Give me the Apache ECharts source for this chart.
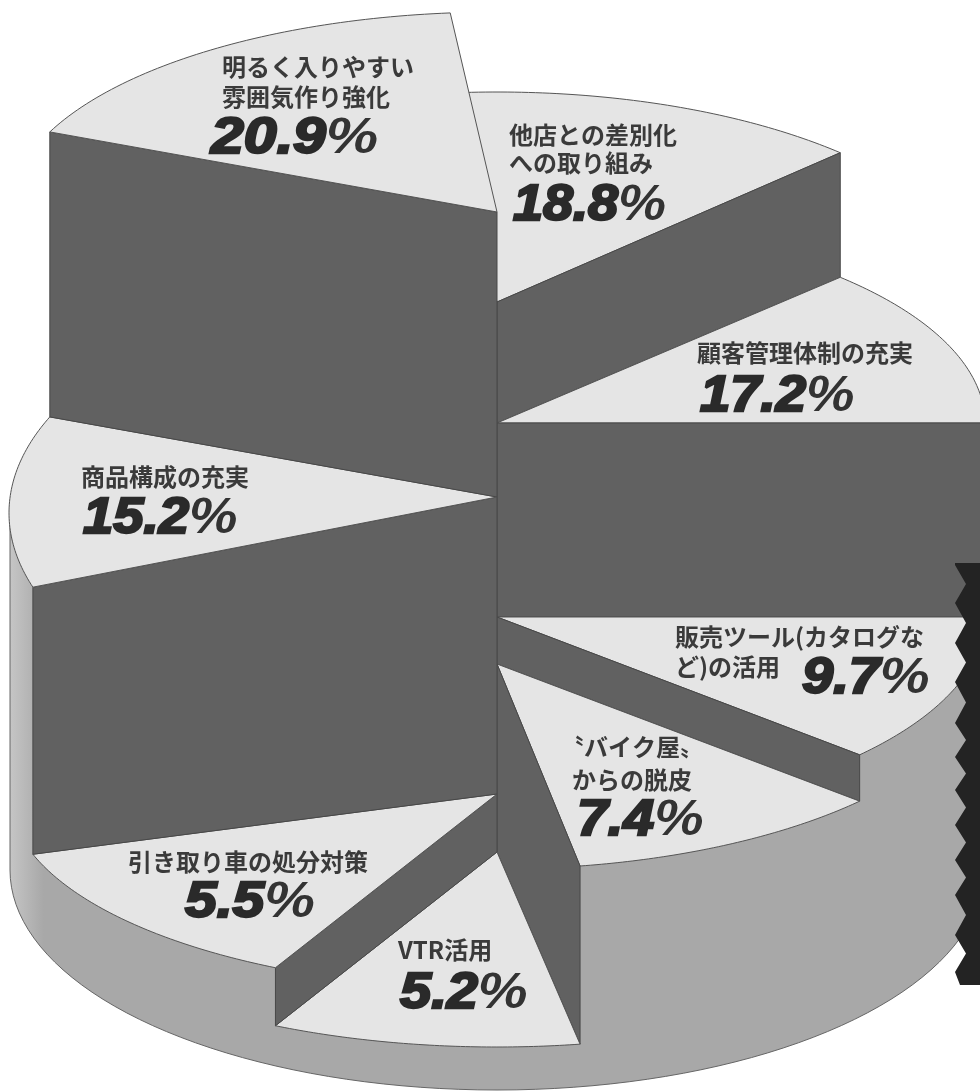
<!DOCTYPE html>
<html><head><meta charset="utf-8">
<style>html,body{margin:0;padding:0;background:#fff}#c{width:980px;height:1091px}</style>
<script src="https://cdn.jsdelivr.net/npm/echarts@6/dist/echarts.min.js"></script>
</head><body><div id="c"></div>
<script>
// Slices in clockwise drawing order, starting at the one right of the top.
const categories = [
  ['他店との差別化','への取り組み'],
  ['顧客管理体制の充実'],
  ['販売ツール(カタログな','ど)の活用'],
  ['〝バイク屋〟','からの脱皮'],
  ['VTR活用'],
  ['引き取り車の処分対策'],
  ['商品構成の充実'],
  ['明るく入りやすい','雰囲気作り強化']
];
const shares = [18.8, 17.2, 9.7, 7.4, 5.2, 5.5, 15.2, 20.9];
// The illustration is not drawn to scale: sweeps and step levels are read from the picture.
const sweepDeg = [50.2, 45.3, 42, 38.2, 36.8, 45, 41.6, 60.9];
const stepLevel = [302, 423, 617, 664, 852, 794, 497, 212];

// ---- drawing ----
const CX = 497, RX = 488, START = -5.5;
const faceRy = [210, 205, 206, 205, 195, 195, 240, 200];
const faceShift = [0, 0, 0, 0, 0, 0, 16, 0];
const FACE = '#e5e5e5', WALL = '#616161', LINE = '#555';
const LABELS = [
  {x:[509,509],y:[135,163],px:513,py:206,sc:1.08},
  {x:[697],y:[353],px:700,py:397,sc:1.09},
  {x:[675,675],y:[637,667],px:802,py:679,sc:1.12},
  {x:[560,572],y:[747,780],px:577,py:821,sc:1.11},
  {x:[398],y:[950],px:400,py:994,sc:1.12},
  {x:[128],y:[862],px:185,py:903,sc:1.14},
  {x:[81],y:[477],px:83,py:519,sc:1.09},
  {x:[222,222],y:[67,97],px:211,py:139,sc:1.18}
];
const edges = []; let acc = START;
sweepDeg.forEach(s => { edges.push([acc, acc + s]); acc += s; });
const n = shares.length;
const rim = (i, deg) => {
  const t = deg * Math.PI / 180;
  return [CX + RX * Math.sin(t), stepLevel[i] + faceShift[i] - faceRy[i] * Math.cos(t)];
};
const at = (api, p) => api.coord(p);

function renderSlice(params, api) {
  const i = params.dataIndex, ch = [];
  const [a, b] = edges[i];
  const pts = [[CX, stepLevel[i]]];
  for (let k = 0; k <= 60; k++) pts.push(rim(i, a + (b - a) * k / 60));
  ch.push({type:'polygon', shape:{points:pts.map(p => at(api,p))},
    style:{fill:FACE, stroke:LINE, lineWidth:1}});
  // wall at the boundary with the next slice, when this slice stands higher
  const j = (i + 1) % n;
  const wall = (hi, lo, deg) => ({type:'polygon',
    shape:{points:[rim(hi,deg),[CX,stepLevel[hi]],[CX,stepLevel[lo]],rim(lo,deg)].map(p => at(api,p))},
    style:{fill:WALL, stroke:'#484848', lineWidth:1}});
  if (i !== n - 1) {
    const hi = stepLevel[i] < stepLevel[j] ? i : j, lo = hi === i ? j : i;
    ch.push(wall(hi, lo, b));
  }
  const L = LABELS[i];
  categories[i].forEach((t, k) => {
    const p = at(api, [L.x[k], L.y[k]]);
    ch.push({type:'text', x:p[0], y:p[1], style:{text:t, align:'left', verticalAlign:'middle',
      fontFamily:'"Noto Sans CJK JP"', fontWeight:700, fontSize:24, fill:'#3a3a3a'}});
  });
  const q = at(api, [L.px, L.py]);
  ch.push({type:'text', x:q[0], y:q[1], scaleX:L.sc, style:{
    text:'{n|' + shares[i].toFixed(1) + '}{p|%}', align:'left', verticalAlign:'middle',
    rich:{
      n:{fontFamily:'"Liberation Sans"', fontWeight:700, fontStyle:'italic', fontSize:50, fill:'#2a2a2a', stroke:'#2a2a2a', lineWidth:2.4},
      p:{fontFamily:'"Liberation Sans"', fontWeight:700, fontStyle:'italic', fontSize:50, fill:'#333'}
    }}});
  return {type:'group', children:ch};
}

function renderBase(params, api) {
  const pts = [[10,513]];
  const cy = 870, ry = 220, rx = 487;
  for (let k = 0; k <= 80; k++) {
    const t = Math.PI * k / 80;
    pts.push([CX - rx * Math.cos(t), cy + ry * Math.sin(t)]);
  }
  pts.push([CX + rx, 513]);
  return {type:'polygon', shape:{points:pts.map(p => at(api,p))},
    style:{stroke:'#666', lineWidth:1,
      fill:new echarts.graphic.LinearGradient(0,0,1,0,[
        {offset:0,color:'#c6c6c6'},{offset:0.035,color:'#a8a8a8'},{offset:1,color:'#a8a8a8'}])}};
}

// The black torn strip on the right edge of the page (not chart data).
function renderBand(params, api) {
  const notch = [565,603,643,682,723,757,790,825,860,895,935,972];
  const pts = [[980,563],[955,563]];
  notch.forEach((y, k) => {
    pts.push([955,y]);
    if (k < notch.length - 1) pts.push([966,(y + notch[k+1]) / 2]);
  });
  pts.push([960,985],[980,985]);
  return {type:'polygon', shape:{points:pts.map(p => at(api,p))}, style:{fill:'#232323'}};
}

const chart = echarts.init(document.getElementById('c'), null, {renderer:'canvas'});
chart.setOption({
  animation:false,
  backgroundColor:'#ffffff',
  grid:{left:0,right:0,top:0,bottom:0},
  xAxis:{type:'value',min:0,max:980,show:false},
  yAxis:{type:'value',min:0,max:1091,inverse:true,show:false},
  series:[
    {type:'custom',silent:true,z:1,renderItem:renderBase,data:[0],clip:true},
    {type:'custom',silent:true,z:2,renderItem:renderSlice,data:shares,clip:true},
    {type:'custom',silent:true,z:3,renderItem:renderBand,data:[0],clip:true}
  ]
});
</script></body></html>
